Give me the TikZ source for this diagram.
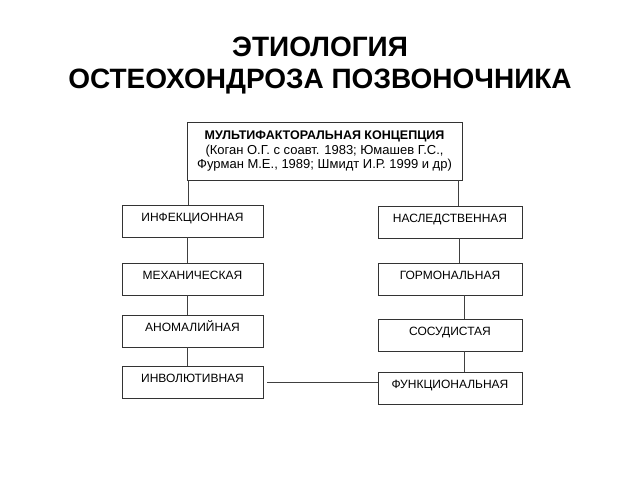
\documentclass[tikz,border=0pt]{standalone}
\usepackage{fontspec}
\setmainfont{Liberation Sans}

\begin{document}
\begin{tikzpicture}[x=1pt,y=-1pt]
  \useasboundingbox (0,0) rectangle (640,480);
  \tikzstyle{BoxStyle}=[draw=black!80, line width=0.8pt, minimum width=141pt,
    inner xsep=2pt, inner ysep=4pt, text height=12pt, text depth=12pt,
    font=\fontsize{12}{14}\selectfont]
  \tikzstyle{EdgeStyle}=[draw=black!75, line width=0.8pt]
  \tikzstyle{TitleStyle}=[anchor=base, font=\bfseries\fontsize{28}{32}\selectfont]

  % title
  \node[TitleStyle] (title1) at (320,56) {ЭТИОЛОГИЯ};
  \node[TitleStyle] (title2) at (320,88) {ОСТЕОХОНДРОЗА ПОЗВОНОЧНИКА};

  \node[draw=black!80, line width=0.8pt, minimum width=275pt, minimum height=58pt,
    align=center, font=\fontsize{13}{14.5}\selectfont] (multi) at (324.5,151)
    {{\fontsize{12.5}{14.5}\selectfont\bfseries МУЛЬТИФАКТОРАЛЬНАЯ КОНЦЕПЦИЯ}\\(Коган О.Г. с соавт. 1983; Юмашев Г.С.,\\Фурман М.Е., 1989; Шмидт И.Р. 1999 и др)};

  % left column
  \node[BoxStyle] (infec) at (192.5,221) {ИНФЕКЦИОННАЯ};
  \node[BoxStyle] (mech)  at (192.5,279) {МЕХАНИЧЕСКАЯ};
  \node[BoxStyle] (anom)  at (192.5,331) {АНОМАЛИЙНАЯ};
  \node[BoxStyle] (invol) at (192.5,382) {ИНВОЛЮТИВНАЯ};

  % right column
  \node[BoxStyle, minimum width=144pt] (hered) at (450,222) {НАСЛЕДСТВЕННАЯ};
  \node[BoxStyle, minimum width=144pt] (hormo) at (450,279) {ГОРМОНАЛЬНАЯ};
  \node[BoxStyle, minimum width=144pt] (vasc)  at (450,335) {СОСУДИСТАЯ};
  \node[BoxStyle, minimum width=144pt] (funct) at (450,388) {ФУНКЦИОНАЛЬНАЯ};

  \draw[EdgeStyle] ([xshift=-136.5pt]multi.south) -- ([xshift=-4.5pt]infec.north);
  \draw[EdgeStyle] ([xshift=133.5pt]multi.south) -- ([xshift=8pt]hered.north);
  \draw[EdgeStyle] ([xshift=-5.5pt]infec.south) -- ([xshift=-5.5pt]mech.north);
  \draw[EdgeStyle] ([xshift=-5.5pt]mech.south) -- ([xshift=-5.5pt]anom.north);
  \draw[EdgeStyle] ([xshift=-5.5pt]anom.south) -- ([xshift=-5.5pt]invol.north);
  \draw[EdgeStyle] ([xshift=9pt]hered.south) -- ([xshift=9pt]hormo.north);
  \draw[EdgeStyle] ([xshift=14pt]hormo.south) -- ([xshift=14pt]vasc.north);
  \draw[EdgeStyle] ([xshift=14pt]vasc.south) -- ([xshift=14pt]funct.north);
  \draw[EdgeStyle] ([xshift=4pt]invol.east) -- (invol.east -| funct.west);
\end{tikzpicture}
\end{document}
